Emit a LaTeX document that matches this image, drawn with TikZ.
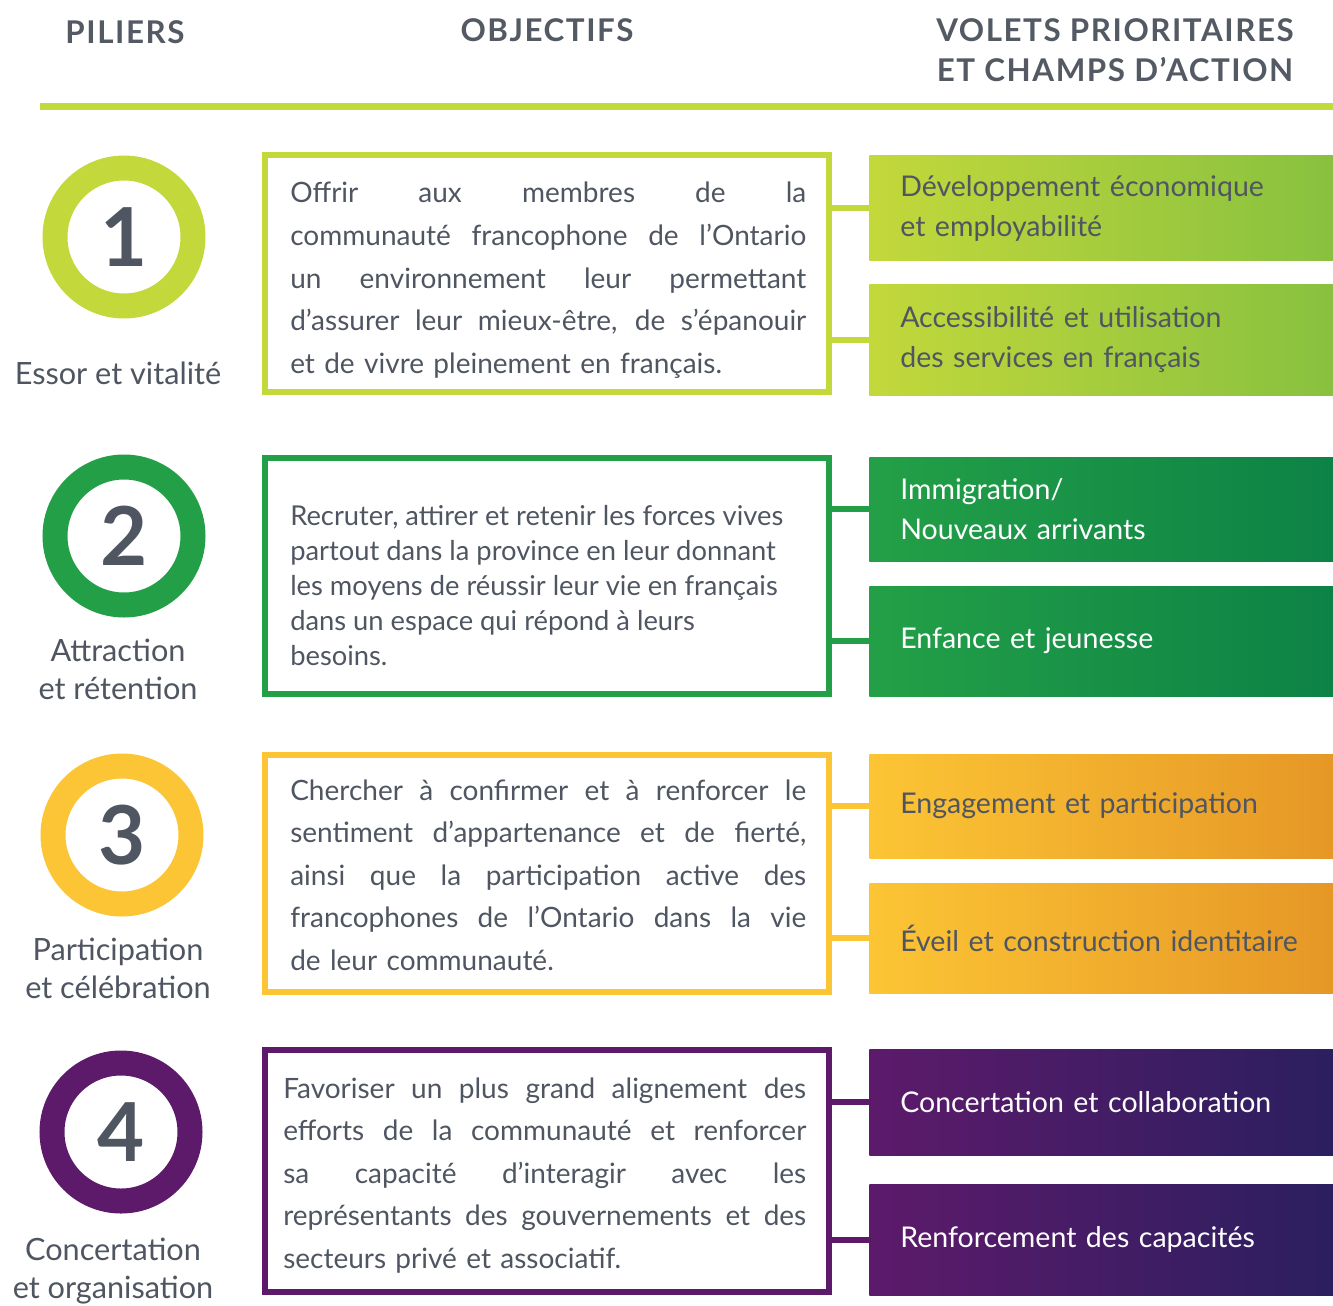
\documentclass[tikz,border=0pt]{standalone}
\usepackage{fontspec}
\setmainfont{Lato}
\newfontfamily\headfont[LetterSpace=5]{Lato}
\definecolor{txt}{HTML}{4F5661}
\definecolor{headtxt}{HTML}{545A63}
\definecolor{rule}{HTML}{C2DA3E}
\definecolor{lime}{HTML}{C3D83B}
\definecolor{limeR}{HTML}{88C13F}
\definecolor{grn}{HTML}{23A047}
\definecolor{grnR}{HTML}{0D8246}
\definecolor{yel}{HTML}{FCC535}
\definecolor{yelR}{HTML}{E69726}
\definecolor{pur}{HTML}{5D1A6B}
\definecolor{purR}{HTML}{2B1F5F}
\newcommand\jline[2]{\makebox[#1][s]{\spaceskip=0pt\xspaceskip=0pt #2}}
\begin{document}
\begin{tikzpicture}[x=0.75pt,y=-0.75pt,
  head/.style={font=\headfont\bfseries\fontsize{23.5}{30}\selectfont, text=headtxt, align=center, inner sep=0},
  pillar/.style={circle, line width=18.75pt, minimum size=103.5pt, inner sep=0, text=txt, font=\bfseries\fontsize{61}{61}\selectfont},
  plabel/.style={font=\fontsize{23}{28.5}\selectfont, text=txt, align=center, inner sep=0, anchor=base},
  objbox/.style={draw, line width=4.5pt, minimum width=423pt, inner sep=0},
  objtext/.style={font=\fontsize{21}{31.875}\selectfont, text=txt, align=left, inner sep=0, anchor=base west},
  bar/.style={anchor=west, minimum width=348pt, text width=301.5pt, inner xsep=23.25pt, inner ysep=0, align=left, font=\fontsize{21.4}{30}\selectfont},
  conn/.style={line width=4.5pt},
]
\useasboundingbox (0,0) rectangle (1333,1305);

% headers
\node[head] (h1) at (125,32) {PILIERS};
\node[head] (h2) at (547,30) {OBJECTIFS};
\node[head] (h3) at (1115,50) {VOLETS PRIORITAIRES\\ET CHAMPS D’ACTION};
\coordinate (r0) at (40,107);
\coordinate (r1) at (1333,107);
\draw[line width=5.25pt, rule] (r0) -- (r1);

% ---------- row 1
\node[pillar, draw=lime] (p1) at (124,237) {1};
\node[plabel] (l1) at (118,384) {Essor et vitalité};
\node[objbox, draw=lime, minimum height=177pt] (o1) at (547,273.5) {};
\node[objtext, text width=387pt] (t1) at (290,203) {%
\jline{387pt}{Offrir aux membres de la}\\
\jline{387pt}{communauté francophone de l’Ontario}\\
\jline{387pt}{un environnement leur permettant}\\
\jline{387pt}{d’assurer leur mieux-être, de s’épanouir}\\
et de vivre pleinement en français.};
\node[bar, minimum height=78pt, left color=lime, right color=limeR, text=txt] (b1a) at (869,208) {Développement économique\\et employabilité};
\node[bar, minimum height=83.25pt, left color=lime, right color=limeR, text=txt] (b1b) at (869,339.5) {Accessibilité et utilisation\\des services en français};
\draw[conn, lime] (o1.east |- b1a.west) -- (b1a.west);
\draw[conn, lime] (o1.east |- b1b.west) -- (b1b.west);

% ---------- row 2
\node[pillar, draw=grn] (p2) at (124,536) {2};
\node[plabel] (l2) at (118,699) {Attraction\\et rétention};
\node[objbox, draw=grn, minimum height=177pt] (o2) at (547,576) {};
\node[objtext, font=\fontsize{20.5}{26.25}\selectfont, anchor=north west] (t2) at (290,505) {%
Recruter, attirer et retenir les forces vives\\
partout dans la province en leur donnant\\
les moyens de réussir leur vie en français\\
dans un espace qui répond à leurs\\
besoins.};
\node[bar, minimum height=78pt, left color=grn, right color=grnR, text=white] (b2a) at (869,509) {Immigration/\\Nouveaux arrivants};
\node[bar, minimum height=82.5pt, left color=grn, right color=grnR, text=white] (b2b) at (869,641) {Enfance et jeunesse};
\draw[conn, grn] (o2.east |- b2a.west) -- (b2a.west);
\draw[conn, grn] (o2.east |- b2b.west) -- (b2b.west);

% ---------- row 3
\node[pillar, draw=yel] (p3) at (122,835) {3};
\node[plabel] (l3) at (118,998) {Participation\\et célébration};
\node[objbox, draw=yel, minimum height=177.75pt] (o3) at (547,873.5) {};
\node[objtext, text width=387pt] (t3) at (290,800) {%
\jline{387pt}{Chercher à confirmer et à renforcer le}\\
\jline{387pt}{sentiment d’appartenance et de fierté,}\\
\jline{387pt}{ainsi que la participation active des}\\
\jline{387pt}{francophones de l’Ontario dans la vie}\\
de leur communauté.};
\node[bar, minimum height=78pt, left color=yel, right color=yelR, text=txt] (b3a) at (869,806) {Engagement et participation};
\node[bar, minimum height=82.5pt, left color=yel, right color=yelR, text=txt] (b3b) at (869,938) {Éveil et construction identitaire};
\draw[conn, yel] (o3.east |- b3a.west) -- (b3a.west);
\draw[conn, yel] (o3.east |- b3b.west) -- (b3b.west);

% ---------- row 4
\node[pillar, draw=pur] (p4) at (121,1132) {4};
\node[plabel] (l4) at (113,1298) {Concertation\\et organisation};
\node[objbox, draw=pur, minimum height=181.5pt] (o4) at (547,1171) {};
\node[objtext, text width=392.25pt] (t4) at (283,1098) {%
\jline{392.25pt}{Favoriser un plus grand alignement des}\\
\jline{392.25pt}{efforts de la communauté et renforcer}\\
\jline{392.25pt}{sa capacité d’interagir avec les}\\
\jline{392.25pt}{représentants des gouvernements et des}\\
secteurs privé et associatif.};
\node[bar, minimum height=79.5pt, left color=pur, right color=purR, text=white] (b4a) at (869,1102) {Concertation et collaboration};
\node[bar, minimum height=83.25pt, left color=pur, right color=purR, text=white] (b4b) at (869,1239.5) {Renforcement des capacités};
\draw[conn, pur] (o4.east |- b4a.west) -- (b4a.west);
\draw[conn, pur] (o4.east |- b4b.west) -- (b4b.west);
\end{tikzpicture}
\end{document}
